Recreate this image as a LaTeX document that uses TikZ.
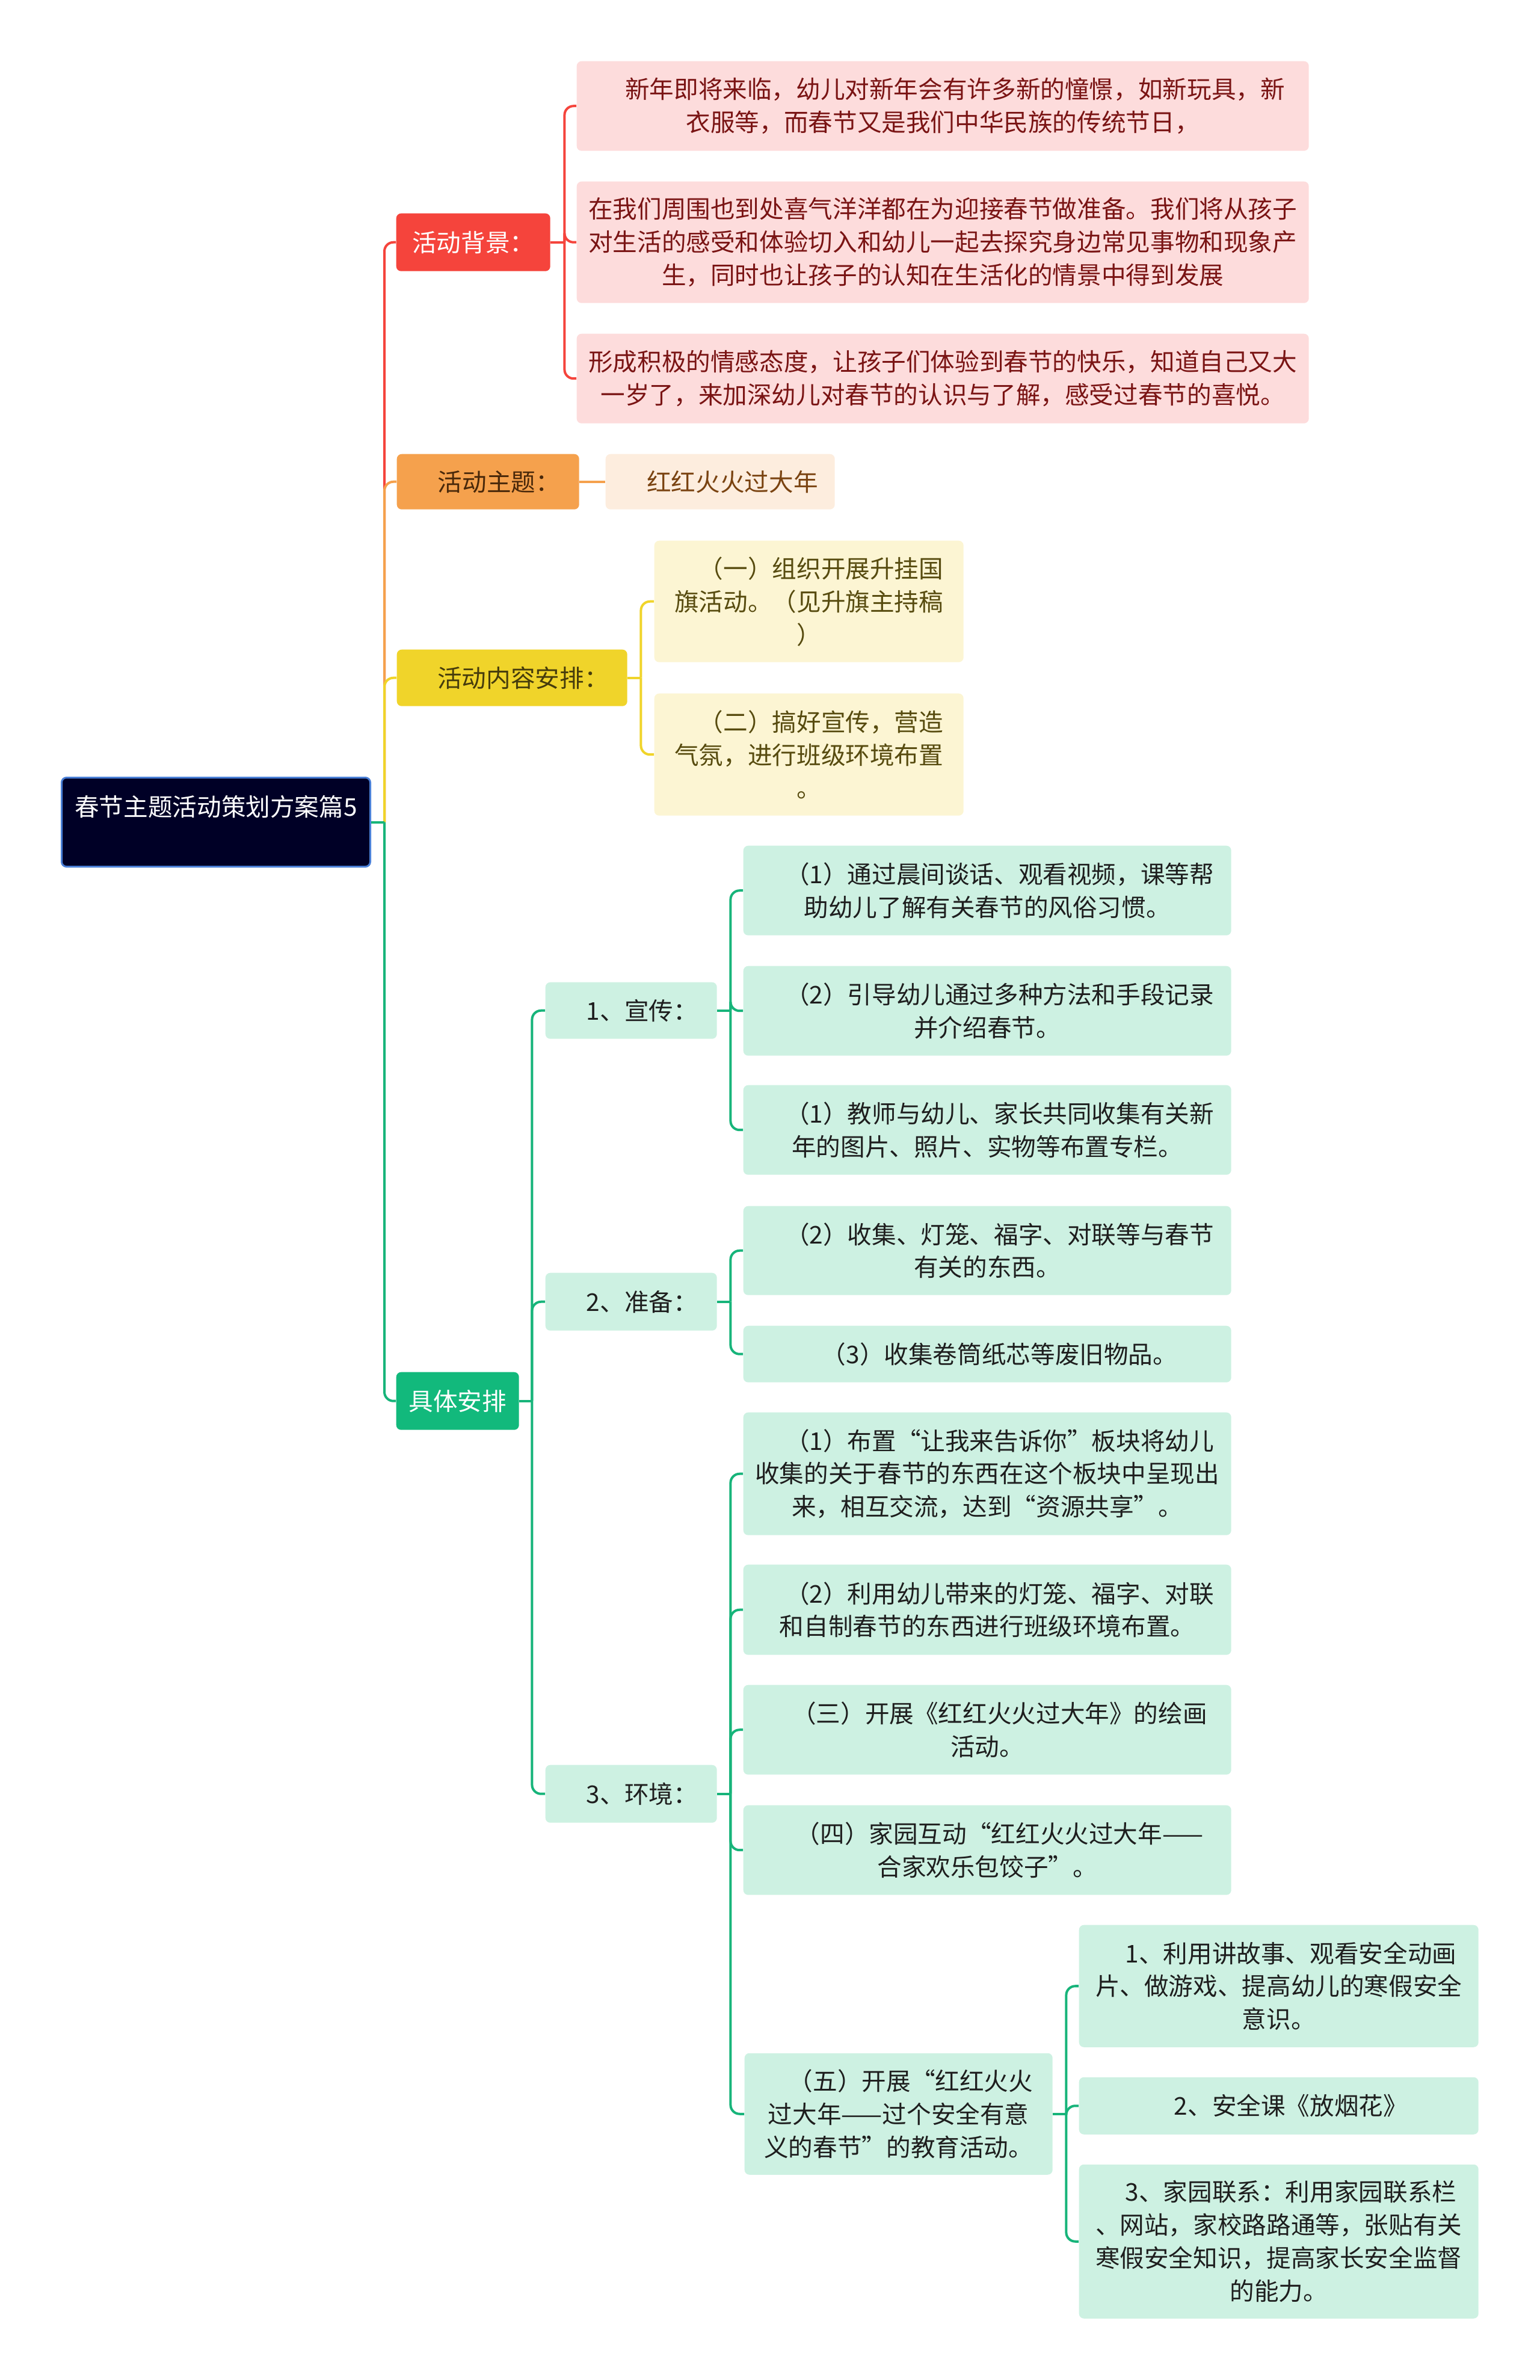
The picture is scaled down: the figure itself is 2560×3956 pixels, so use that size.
\documentclass[tikz,border=0pt]{standalone}
\usepackage{fontspec}
\setmainfont{Noto Sans CJK SC}
\usetikzlibrary{positioning,calc}
\newcommand{\mapfont}{\fontsize{11.55pt}{15.6pt}\selectfont}
\definecolor{rootnavy} {HTML}{000026}
\definecolor{rootedge} {HTML}{4A7FD6}
\definecolor{redhead}  {HTML}{F5443C}
\definecolor{redleaf}  {HTML}{FDDCDC}
\definecolor{redink}   {HTML}{7A1414}
\definecolor{orghead}  {HTML}{F5A14D}
\definecolor{orgleaf}  {HTML}{FDEDDE}
\definecolor{orgink}   {HTML}{7A4311}
\definecolor{yelhead}  {HTML}{F0D42A}
\definecolor{yelleaf}  {HTML}{FCF5D3}
\definecolor{yelink}   {HTML}{574B0F}
\definecolor{grnhead}  {HTML}{12B97C}
\definecolor{grnleaf}  {HTML}{CDF1E2}
\definecolor{grnline}  {HTML}{17B47A}
\definecolor{darkink}  {HTML}{1E1E1E}
\tikzset{
  every node/.style={font=\mapfont},
  % --- nodes
  box/.style   = {rounded corners=0.08cm, anchor=north west, align=center,
                  inner sep=0pt},
  wh/.style 2 args = {minimum width=#1*0.01cm, minimum height=#2*0.01cm},
  topic/.style = {box, fill=rootnavy, draw=rootedge, line width=0.03cm, text=white},
  rhead/.style = {box, fill=redhead, text=white},
  ohead/.style = {box, fill=orghead, text=orgink!60!black},
  yhead/.style = {box, fill=yelhead, text=yelink!80!black},
  ghead/.style = {box, fill=grnhead, text=white},
  rleaf/.style = {box, fill=redleaf, text=redink},
  oleaf/.style = {box, fill=orgleaf, text=orgink},
  yleaf/.style = {box, fill=yelleaf, text=yelink},
  gleaf/.style = {box, fill=grnleaf, text=darkink},
  % --- edges
  e/.style     = {line width=0.04cm, rounded corners=0.15cm},
  er/.style    = {e, draw=redhead},
  eo/.style    = {e, draw=orghead},
  ey/.style    = {e, draw=yelhead},
  eg/.style    = {e, draw=grnline},
}

\begin{document}
\begin{tikzpicture}[x=0.01cm, y=-0.01cm]
  \useasboundingbox (0,0) rectangle (2560,3956);

  \node[topic, wh={513}{148}] (root) at (101,1291) {春节主题活动策划方案篇5\\~};

  \node[rhead, wh={256}{96}] (bghead)   at (658,354)  {活动背景：};
  \node[ohead, wh={303}{92}] (themehead) at (659,754) {\hspace*{0.9em}活动主题：};
  \node[yhead, wh={383}{94}] (planhead)  at (659,1079) {\hspace*{0.9em}活动内容安排：};
  \node[ghead, wh={204}{96}] (spechead)  at (658,2280) {具体安排};

  % background
  \node[rleaf, wh={1217}{149}] (bg1) at (958,101) {\hspace*{1em}新年即将来临，幼儿对新年会有许多新的憧憬，如新玩具，新\\衣服等，而春节又是我们中华民族的传统节日，};
  \node[rleaf, wh={1217}{202}] (bg2) at (958,301) {在我们周围也到处喜气洋洋都在为迎接春节做准备。我们将从孩子\\对生活的感受和体验切入和幼儿一起去探究身边常见事物和现象产\\生，同时也让孩子的认知在生活化的情景中得到发展};
  \node[rleaf, wh={1217}{149}] (bg3) at (958,554) {形成积极的情感态度，让孩子们体验到春节的快乐，知道自己又大\\一岁了，来加深幼儿对春节的认识与了解，感受过春节的喜悦。};

  % theme
  \node[oleaf, wh={381}{92}] (theme1) at (1006,754) {\hspace*{1em}红红火火过大年};

  % content
  \node[yleaf, wh={514}{202}] (plan1) at (1087,898)  {\hspace*{1em}（一）组织开展升挂国\\旗活动。（见升旗主持稿\\）};
  \node[yleaf, wh={514}{203}] (plan2) at (1087,1152) {\hspace*{1em}（二）搞好宣传，营造\\气氛，进行班级环境布置\\。};

  % details
  \node[gleaf, wh={285}{94}] (xc) at (906,1632) {\hspace*{0.9em}1、宣传：};
  \node[gleaf, wh={285}{96}] (zb) at (906,2115) {\hspace*{0.9em}2、准备：};
  \node[gleaf, wh={285}{96}] (hj) at (906,2933) {\hspace*{0.9em}3、环境：};

  \node[gleaf, wh={811}{149}] (xc1) at (1235,1405) {\hspace*{1em}（1）通过晨间谈话、观看视频，课等帮\\助幼儿了解有关春节的风俗习惯。};
  \node[gleaf, wh={811}{149}] (xc2) at (1235,1605) {\hspace*{1em}（2）引导幼儿通过多种方法和手段记录\\并介绍春节。};
  \node[gleaf, wh={811}{149}] (xc3) at (1235,1803) {\hspace*{1em}（1）教师与幼儿、家长共同收集有关新\\年的图片、照片、实物等布置专栏。};
  \node[gleaf, wh={811}{148}] (zb1) at (1235,2004) {\hspace*{1em}（2）收集、灯笼、福字、对联等与春节\\有关的东西。};
  \node[gleaf, wh={811}{94}]  (zb2) at (1235,2203) {\hspace*{1em}（3）收集卷筒纸芯等废旧物品。};
  \node[gleaf, wh={811}{204}] (hj1) at (1235,2347) {\hspace*{1em}（1）布置“让我来告诉你”板块将幼儿\\收集的关于春节的东西在这个板块中呈现出\\来，相互交流，达到“资源共享”。};
  \node[gleaf, wh={811}{150}] (hj2) at (1235,2600) {\hspace*{1em}（2）利用幼儿带来的灯笼、福字、对联\\和自制春节的东西进行班级环境布置。};
  \node[gleaf, wh={811}{149}] (hj3) at (1235,2800) {\hspace*{1em}（三）开展《红红火火过大年》的绘画\\活动。};
  \node[gleaf, wh={811}{149}] (hj4) at (1235,3000) {\hspace*{1em}（四）家园互动“红红火火过大年——\\合家欢乐包饺子”。};
  \node[gleaf, wh={512}{202}] (hj5) at (1237,3412) {\hspace*{1em}（五）开展“红红火火\\过大年——过个安全有意\\义的春节”的教育活动。};

  \node[gleaf, wh={664}{203}] (aq1) at (1793,3199) {\hspace*{1em}1、利用讲故事、观看安全动画\\片、做游戏、提高幼儿的寒假安全\\意识。};
  \node[gleaf, wh={664}{95}]  (aq2) at (1793,3452) {\hspace*{1em}2、安全课《放烟花》};
  \node[gleaf, wh={664}{256}] (aq3) at (1793,3597) {\hspace*{1em}3、家园联系：利用家园联系栏\\、网站，家校路路通等，张贴有关\\寒假安全知识，提高家长安全监督\\的能力。};

  % trunk
  \coordinate (rj) at ($(root.east)+(22,0)$);
  \draw[er] (rj) |- (bghead.west);
  \draw[eo] (rj) |- (themehead.west);
  \draw[ey] (rj) |- (planhead.west);
  \draw[eg] (rj) |- (spechead.west);
  \draw[eg] (root.east) -- (rj);

  % branches
  \coordinate (bgj) at ($(bghead.east)+(23,0)$);
  \draw[er] (bghead.east) -- (bgj);
  \foreach \n in {bg1,bg2,bg3}
    \draw[er] (bgj) |- (\n.west);

  \draw[eo] (themehead.east) -- (theme1.west);

  \coordinate (pj) at ($(planhead.east)+(22,0)$);
  \draw[ey] (planhead.east) -- (pj);
  \foreach \n in {plan1,plan2}
    \draw[ey] (pj) |- (\n.west);

  \coordinate (sj) at ($(spechead.east)+(21,0)$);
  \draw[eg] (spechead.east) -- (sj);
  \foreach \n in {xc,zb,hj}
    \draw[eg] (sj) |- (\n.west);

  \coordinate (xj) at ($(xc.east)+(22,0)$);
  \draw[eg] (xc.east) -- (xj);
  \foreach \n in {xc1,xc2,xc3}
    \draw[eg] (xj) |- (\n.west);

  \coordinate (zj) at ($(zb.east)+(22,0)$);
  \draw[eg] (zb.east) -- (zj);
  \foreach \n in {zb1,zb2}
    \draw[eg] (zj) |- (\n.west);

  \coordinate (hjj) at ($(hj.east)+(22,0)$);
  \draw[eg] (hj.east) -- (hjj);
  \foreach \n in {hj1,hj2,hj3,hj4,hj5}
    \draw[eg] (hjj) |- (\n.west);

  \coordinate (aj) at ($(hj5.east)+(22,0)$);
  \draw[eg] (hj5.east) -- (aj);
  \foreach \n in {aq1,aq2,aq3}
    \draw[eg] (aj) |- (\n.west);
\end{tikzpicture}
\end{document}
